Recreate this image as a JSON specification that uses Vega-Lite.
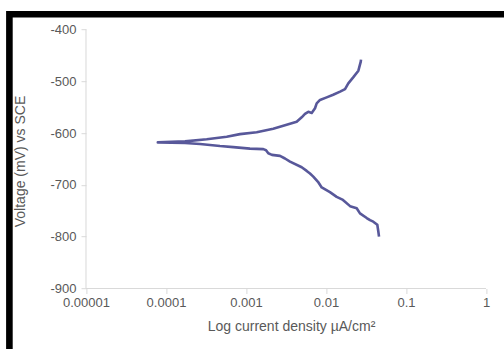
{
  "$schema": "https://vega.github.io/schema/vega-lite/v6.json",
  "width": 494.6,
  "height": 334.8,
  "autosize": {"type": "none"},
  "padding": {"left": 9.4, "top": 14.2, "right": 0, "bottom": 0},
  "background": "white",
  "config": {"view": {"stroke": "black", "strokeWidth": 6.6, "strokeDash": [494.6, 829.4, 334.8], "strokeCap": "square"}, "font": "Liberation Sans"},
  "layer": [
    {
      "data": {"values": [{}]},
      "mark": {"type": "rule", "color": "#d9d9d9", "strokeWidth": 1},
      "encoding": {
        "x": {"datum": 0.00001, "type": "quantitative"},
        "y": {"datum": -400, "type": "quantitative"},
        "y2": {"datum": -900}
      }
    },
    {
      "data": {"values": [{}]},
      "mark": {"type": "rule", "color": "#d9d9d9", "strokeWidth": 1},
      "encoding": {
        "y": {"datum": -900, "type": "quantitative"},
        "x": {"datum": 0.00001, "type": "quantitative"},
        "x2": {"datum": 1}
      }
    },
    {
      "data": {"values": [
        {"i": 0, "current": 0.0460, "voltage": -800},
        {"i": 1, "current": 0.0451, "voltage": -790},
        {"i": 2, "current": 0.0438, "voltage": -777},
        {"i": 3, "current": 0.0390, "voltage": -771},
        {"i": 4, "current": 0.0355, "voltage": -768},
        {"i": 5, "current": 0.0323, "voltage": -764},
        {"i": 6, "current": 0.0266, "voltage": -755},
        {"i": 7, "current": 0.0242, "voltage": -745},
        {"i": 8, "current": 0.0200, "voltage": -741},
        {"i": 9, "current": 0.0163, "voltage": -729},
        {"i": 10, "current": 0.0136, "voltage": -723},
        {"i": 11, "current": 0.0112, "voltage": -714},
        {"i": 12, "current": 0.00884, "voltage": -705},
        {"i": 13, "current": 0.00794, "voltage": -694},
        {"i": 14, "current": 0.00694, "voltage": -684},
        {"i": 15, "current": 0.00631, "voltage": -678},
        {"i": 16, "current": 0.00574, "voltage": -673},
        {"i": 17, "current": 0.00497, "voltage": -666},
        {"i": 18, "current": 0.00355, "voltage": -655},
        {"i": 19, "current": 0.00307, "voltage": -649},
        {"i": 20, "current": 0.00266, "voltage": -644},
        {"i": 21, "current": 0.00211, "voltage": -642},
        {"i": 22, "current": 0.00190, "voltage": -639},
        {"i": 23, "current": 0.00178, "voltage": -633},
        {"i": 24, "current": 0.00165, "voltage": -631},
        {"i": 25, "current": 0.00112, "voltage": -630},
        {"i": 26, "current": 0.000694, "voltage": -627},
        {"i": 27, "current": 0.000473, "voltage": -625},
        {"i": 28, "current": 0.000266, "voltage": -621},
        {"i": 29, "current": 0.000173, "voltage": -619},
        {"i": 30, "current": 0.000079, "voltage": -618},
        {"i": 31, "current": 0.000173, "voltage": -616},
        {"i": 32, "current": 0.000323, "voltage": -612},
        {"i": 33, "current": 0.000574, "voltage": -607},
        {"i": 34, "current": 0.000841, "voltage": -602},
        {"i": 35, "current": 0.00136, "voltage": -598.5},
        {"i": 36, "current": 0.00219, "voltage": -591.5},
        {"i": 37, "current": 0.00355, "voltage": -582},
        {"i": 38, "current": 0.00430, "voltage": -578},
        {"i": 39, "current": 0.00497, "voltage": -569.5},
        {"i": 40, "current": 0.00546, "voltage": -563},
        {"i": 41, "current": 0.00601, "voltage": -559},
        {"i": 42, "current": 0.00663, "voltage": -561},
        {"i": 43, "current": 0.00729, "voltage": -552},
        {"i": 44, "current": 0.00765, "voltage": -542.5},
        {"i": 45, "current": 0.00841, "voltage": -536},
        {"i": 46, "current": 0.0102, "voltage": -531},
        {"i": 47, "current": 0.0123, "voltage": -526},
        {"i": 48, "current": 0.0150, "voltage": -520},
        {"i": 49, "current": 0.0173, "voltage": -515},
        {"i": 50, "current": 0.0190, "voltage": -504},
        {"i": 51, "current": 0.0220, "voltage": -492},
        {"i": 52, "current": 0.0254, "voltage": -479.5},
        {"i": 53, "current": 0.0272, "voltage": -462},
        {"i": 54, "current": 0.0274, "voltage": -458}
      ]},
      "mark": {"type": "line", "color": "#58589a", "strokeWidth": 2.6, "strokeJoin": "round"},
      "encoding": {
        "order": {"field": "i", "type": "quantitative"},
        "x": {
          "field": "current",
          "type": "quantitative",
          "scale": {"type": "log", "domain": [0.000001103, 1.679], "nice": false, "zero": false},
          "axis": {
            "values": [0.00001, 0.0001, 0.001, 0.01, 0.1, 1],
            "labelExpr": "'' + datum.value",
            "domain": false,
            "grid": false,
            "ticks": true,
            "tickColor": "#d9d9d9",
            "tickSize": 5,
            "labelFontSize": 13,
            "labelColor": "#595959",
            "labelPadding": 3,
            "labelFlush": false,
            "offset": -60.5,
            "title": "Log current density µA/cm²",
            "titleFontSize": 14,
            "titleFontWeight": "normal",
            "titleColor": "#595959",
            "titleX": 281.6,
            "titleY": 41.5,
            "titleBaseline": "alphabetic",
            "titleAlign": "center"
          }
        },
        "y": {
          "field": "voltage",
          "type": "quantitative",
          "scale": {"domain": [-1016.8, -370.46], "nice": false, "zero": false},
          "axis": {
            "values": [-400, -500, -600, -700, -800, -900],
            "labelExpr": "'' + datum.value",
            "domain": false,
            "grid": false,
            "ticks": true,
            "tickColor": "#d9d9d9",
            "tickSize": 5,
            "labelFontSize": 13,
            "labelColor": "#595959",
            "labelPadding": 5,
            "labelFlush": false,
            "offset": -76.6,
            "title": "Voltage (mV) vs SCE",
            "titleFontSize": 14,
            "titleFontWeight": "normal",
            "titleColor": "#595959",
            "titleX": -62,
            "titleY": 146.8,
            "titleAngle": -90,
            "titleBaseline": "alphabetic",
            "titleAlign": "center"
          }
        }
      }
    }
  ]
}
